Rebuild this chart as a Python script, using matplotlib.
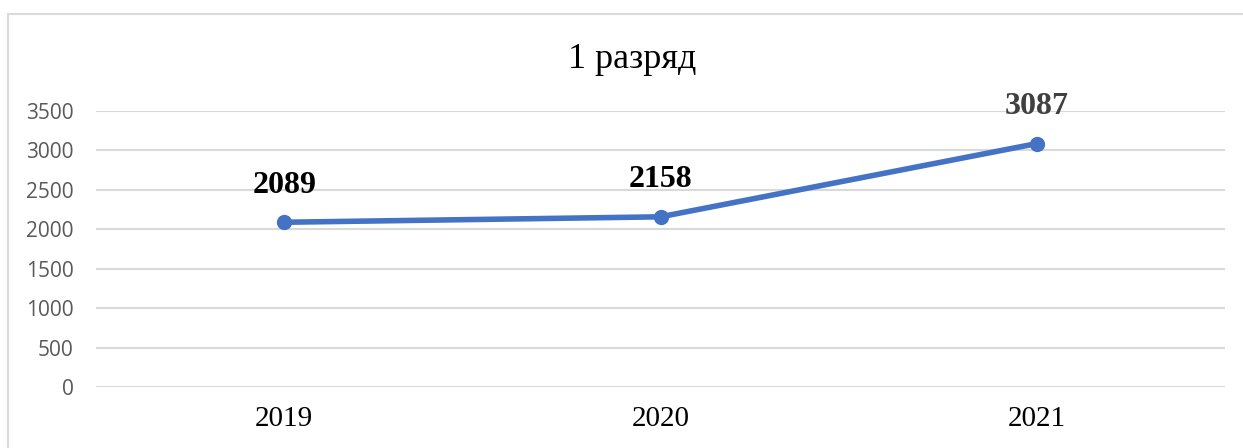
import matplotlib.pyplot as plt
from matplotlib.patches import Rectangle

years = ["2019", "2020", "2021"]
values = [2089, 2158, 3087]
label_colors = ["black", "black", "#404040"]
yticks = [0, 500, 1000, 1500, 2000, 2500, 3000, 3500]
title = "1 разряд"

W, H = 1243, 448
fig = plt.figure(figsize=(W / 100, H / 100), dpi=100)

# light frame around the chart (cut off on the right and bottom)
fig.patches.append(Rectangle((7.5 / W, -0.05), 1.2, 1 - 14.5 / H + 0.05,
                             transform=fig.transFigure, fill=False,
                             edgecolor="#D9D9D9", linewidth=1.5))

ax = fig.add_axes([96 / W, 1 - 387 / H, (1225 - 96) / W, (387 - 111) / H])
x = range(len(years))
ax.plot(x, values, color="#4472C4", linewidth=4, marker="o", markersize=10,
        solid_capstyle="round", zorder=3)

for xi, v, c in zip(x, values, label_colors):
    ax.annotate(str(v), (xi, v), xytext=(0, 37), textcoords="offset pixels",
                ha="center", va="center", fontsize=23, fontweight="bold",
                family="Liberation Serif", color=c)

ax.set_xlim(-0.5, len(years) - 0.5)
ax.set_ylim(0, 3500)
ax.set_yticks(yticks)
ax.set_yticklabels([str(t) for t in yticks], fontsize=15, family="Open Sans",
                   color="#595959")
ax.set_xticks(list(x))
ax.set_xticklabels(years, fontsize=21, family="Liberation Serif", color="black")
ax.tick_params(axis="y", length=0, pad=16)
ax.tick_params(axis="x", length=0, pad=14)
ax.grid(axis="y", color="#D9D9D9", linewidth=1.5)
ax.set_axisbelow(True)
for s in ax.spines.values():
    s.set_visible(False)

fig.text(632 / W, 1 - 60 / H, title, ha="center", va="center", fontsize=26,
         family="Liberation Serif")

fig.savefig("out.png", dpi=100)
